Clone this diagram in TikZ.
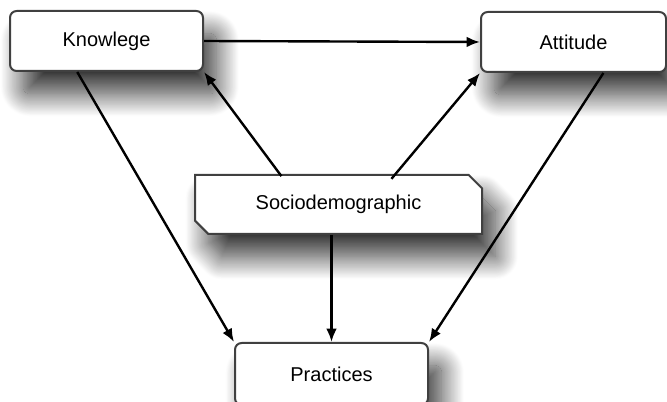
\documentclass[tikz,border=0pt]{standalone}
\usepackage{fontspec}
\setmainfont{Liberation Sans}
\usetikzlibrary{arrows.meta,calc,shapes.misc,shadows.blur}

\begin{document}
\begin{tikzpicture}[x=0.75pt, y=-0.75pt, >={Latex[length=10pt,width=8pt]},
    font=\fontsize{15}{18}\selectfont,
    box/.style={draw=black!75, line width=1.5pt, fill=white, rounded corners=5pt,
      minimum height=45pt, inner sep=0pt,
      blur shadow={shadow xshift=10pt, shadow yshift=-17pt, shadow blur radius=17pt,
        shadow blur steps=30, shadow opacity=80}},
    link/.style={->, line width=1.8pt}]
  \useasboundingbox (0,0) rectangle (667,402);

  \node[box, minimum width=144.75pt] (know) at (106.5,41) {Knowlege};
  \node[box, minimum width=138.75pt] (att) at (573.5,42) {Attitude};
  \node[box, rounded corners=0pt, chamfered rectangle,
    chamfered rectangle corners={north east,south west},
    chamfered rectangle xsep=5pt, chamfered rectangle ysep=5pt,
    minimum width=215.25pt, minimum height=44.25pt] (socio) at (338.5,204.5) {Sociodemographic};
  \node[box, minimum width=144.75pt, minimum height=46.5pt] (prac) at (331.5,374) {Practices};

  \draw[link] (know.east) -- (att.west);
  \draw[link] ($(socio.north west)!0.31!(socio.north east)$) -- (know.south east);
  \draw[link] ($(socio.north west)!0.70!(socio.north east)$) -- (att.south west);
  \draw[link] ($(know.south west)!0.35!(know.south east)$) -- (prac.north west);
  \draw[link] ($(att.south west)!0.66!(att.south east)$) -- (prac.north east);
  \draw[link] (socio.south -| prac.north) -- (prac.north);
\end{tikzpicture}
\end{document}
